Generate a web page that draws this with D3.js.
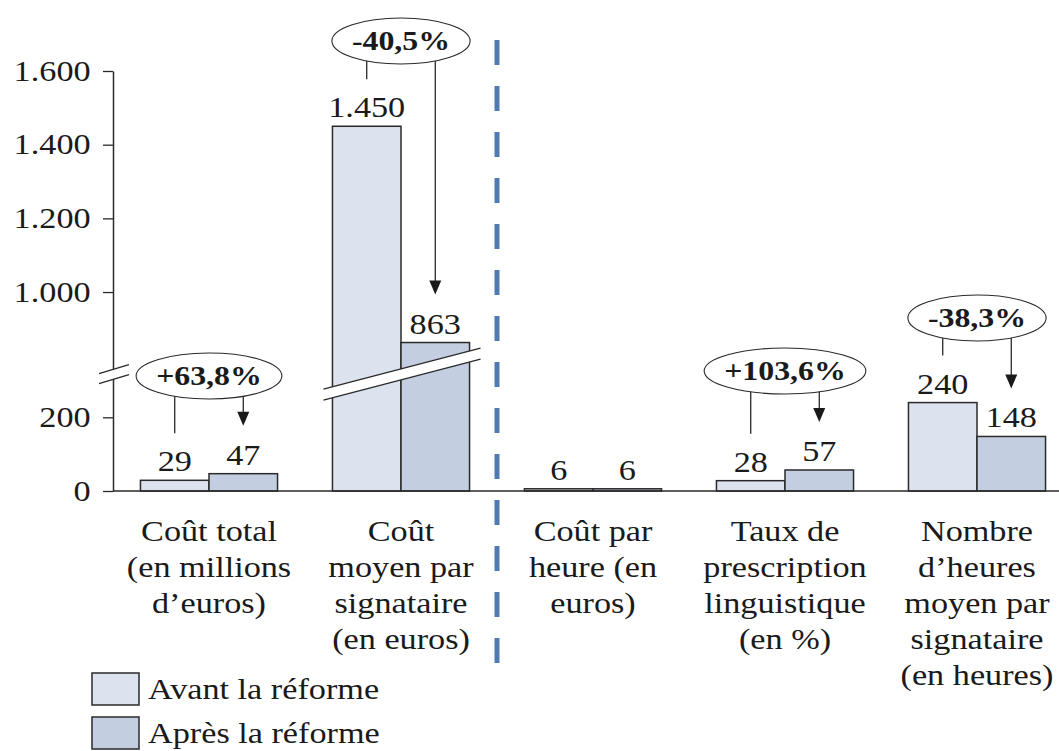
<!DOCTYPE html>
<html>
<head>
<meta charset="utf-8">
<script src="https://cdn.jsdelivr.net/npm/d3@7"></script>
<style>
  body { margin: 0; background: #fff; }
  svg { display: block; }
  text { font-family: "Liberation Serif", "Times New Roman", serif; fill: #1a1a1a; }
</style>
</head>
<body>
<svg width="1059" height="751"></svg>
<script>
// data
var categories = [
  ["Coût total", "(en millions", "d’euros)"],
  ["Coût", "moyen par", "signataire", "(en euros)"],
  ["Coût par", "heure (en", "euros)"],
  ["Taux de", "prescription", "linguistique", "(en %)"],
  ["Nombre", "d’heures", "moyen par", "signataire", "(en heures)"]
];
var avant = [29, 1450, 6, 28, 240];
var apres = [47, 863, 6, 57, 148];
var variations = ["+63,8%", "-40,5%", null, "+103,6%", "-38,3%"];
var series = ["Avant la réforme", "Après la réforme"];
var yTicks = [0, 200, 1000, 1200, 1400, 1600];

// layout for the notes (ellipse centres)
var noteY = [376, 41, null, 371, 318];

var colors = ["#dde3ee", "#c4cee1"];
var ink = "#1a1a1a";
var sx = 1.18; // fonts are a little wide in the source

var svg = d3.select("svg");
var fr = d3.formatLocale({decimal: ",", thousands: ".", grouping: [3], currency: ["", ""]});
var fmt = fr.format(",");

var plotLeft = 113, plotBottom = 491, plotTop = 71;
var idx = d3.range(categories.length);

var x0 = d3.scaleBand().domain(idx).range([plotLeft, plotLeft + 192 * 5])
  .paddingInner(0.286).paddingOuter(0.143);
var x1 = d3.scaleBand().domain([0, 1]).range([0, x0.bandwidth()]);

// broken axis: 320..780 collapsed
var k = (plotBottom - plotTop) / (1600 - 460);
var yBreak = plotBottom - 320 * k;
var y = d3.scaleLinear().domain([0, 320, 780, 1600]).range([plotBottom, yBreak, yBreak, plotTop]);

function label(g, x, yy, str, anchor, opts) {
  opts = opts || {};
  var t = g.append("g").attr("transform", "translate(" + x + "," + yy + ") scale(" + sx + ",1)")
    .append("text")
    .attr("text-anchor", anchor || "middle")
    .style("font-size", (opts.size || 29) + "px")
    .style("font-weight", opts.bold ? "bold" : "normal")
    .text(str);
  return t;
}

// bars
var groups = svg.append("g").selectAll("g").data(idx).enter().append("g")
  .attr("transform", function (i) { return "translate(" + x0(i) + ",0)"; });

groups.selectAll("rect")
  .data(function (i) { return [avant[i], apres[i]]; })
  .enter().append("rect")
  .attr("x", function (d, j) { return x1(j); })
  .attr("y", function (d) { return y(d); })
  .attr("width", x1.bandwidth())
  .attr("height", function (d) { return plotBottom - y(d); })
  .attr("fill", function (d, j) { return colors[j]; })
  .attr("stroke", "#2a2a2a")
  .attr("stroke-width", 1.5);

// break band across the tall bars
var bx0 = x0(1) - 9, bx1 = x0(1) + x0.bandwidth() + 11, bcx = (bx0 + bx1) / 2;
var slope = -0.26, gap = 5.5;
function by(x, off) { return yBreak + 1 + slope * (x - bcx) + off; }
svg.append("polygon")
  .attr("points", [[bx0, by(bx0, -gap)], [bx1, by(bx1, -gap)], [bx1, by(bx1, gap)], [bx0, by(bx0, gap)]].join(" "))
  .attr("fill", "#fff");
[-gap, gap].forEach(function (o) {
  svg.append("line")
    .attr("x1", bx0).attr("y1", by(bx0, o)).attr("x2", bx1).attr("y2", by(bx1, o))
    .attr("stroke", "#2a2a2a").attr("stroke-width", 1.3);
});

// axes
var yAxis = svg.append("g").attr("transform", "translate(" + plotLeft + ",0)")
  .call(d3.axisLeft(y).tickValues(yTicks).tickFormat(fmt).tickSize(10).tickSizeOuter(0).tickPadding(9));
yAxis.select(".domain").attr("stroke", "#2a2a2a").attr("stroke-width", 1.5);
yAxis.selectAll(".tick line").attr("stroke", "#2a2a2a").attr("stroke-width", 1.3);
yAxis.selectAll(".tick text")
  .attr("transform", "scale(" + sx + ",1)")
  .style("font-size", "29px")
  .style("font-family", "Liberation Serif, serif")
  .attr("fill", ink);

svg.append("line")
  .attr("x1", plotLeft).attr("x2", 1059).attr("y1", plotBottom).attr("y2", plotBottom)
  .attr("stroke", "#2a2a2a").attr("stroke-width", 1.5);

// axis break marks
var ax0 = plotLeft - 14, ax1 = plotLeft + 16, acx = plotLeft + 1;
function ay(x, off) { return yBreak + 1 + -0.3 * (x - acx) + off; }
svg.append("polygon")
  .attr("points", [[ax0, ay(ax0, -5)], [ax1, ay(ax1, -5)], [ax1, ay(ax1, 5)], [ax0, ay(ax0, 5)]].join(" "))
  .attr("fill", "#fff");
[-5, 5].forEach(function (o) {
  svg.append("line")
    .attr("x1", ax0).attr("y1", ay(ax0, o)).attr("x2", ax1).attr("y2", ay(ax1, o))
    .attr("stroke", "#2a2a2a").attr("stroke-width", 1.3);
});

// dashed separator between the two blocks of indicators
var sepX = x0(1) + x0.bandwidth() + x0.step() * x0.paddingInner() / 2;
svg.append("line")
  .attr("x1", sepX).attr("x2", sepX).attr("y1", 40).attr("y2", 665)
  .attr("stroke", "#4f7bb0").attr("stroke-width", 5)
  .attr("stroke-dasharray", "25 21");

// value labels
var lab = svg.append("g");
idx.forEach(function (i) {
  [avant[i], apres[i]].forEach(function (v, j) {
    label(lab, x0(i) + x1(j) + x1.bandwidth() / 2, y(v) - 9, fmt(v));
  });
});

// category labels
var cat = svg.append("g");
idx.forEach(function (i) {
  categories[i].forEach(function (line, n) {
    label(cat, x0(i) + x0.bandwidth() / 2, 541 + n * 36, line);
  });
});

// variation notes
var notes = svg.append("g");
idx.forEach(function (i) {
  if (!variations[i]) return;
  var cx = x0(i) + x0.bandwidth() / 2, cy = noteY[i];
  var ell = notes.append("ellipse").attr("cx", cx).attr("cy", cy).attr("ry", 23)
    .attr("fill", "#fff").attr("stroke", "#2a2a2a").attr("stroke-width", 1.1);
  var t = label(notes, cx, cy + 9, variations[i], "middle", {bold: true, size: 27});
  var rx = t.node().getComputedTextLength() * sx / 2 + 20;
  ell.attr("rx", rx);

  function edge(x) {
    var u = (x - cx) / rx;
    return cy + 23 * Math.sqrt(Math.max(0, 1 - u * u));
  }
  // line from the "before" bar
  var xa = x0(i) + x1(0) + x1.bandwidth() / 2;
  notes.append("line")
    .attr("x1", xa).attr("x2", xa).attr("y1", edge(xa)).attr("y2", y(avant[i]) - 47)
    .attr("stroke", "#2a2a2a").attr("stroke-width", 1.3);
  // arrow to the "after" bar
  var xb = x0(i) + x1(1) + x1.bandwidth() / 2;
  var tip = y(apres[i]) - 48;
  notes.append("line")
    .attr("x1", xb).attr("x2", xb).attr("y1", edge(xb)).attr("y2", tip - 12)
    .attr("stroke", "#2a2a2a").attr("stroke-width", 1.3);
  notes.append("polygon")
    .attr("points", [[xb, tip], [xb - 6, tip - 14], [xb + 6, tip - 14]].join(" "))
    .attr("fill", "#1a1a1a");
});

// legend
var leg = svg.append("g");
series.forEach(function (s, j) {
  leg.append("rect")
    .attr("x", 92).attr("y", 673 + j * 44).attr("width", 47).attr("height", 32)
    .attr("fill", colors[j]).attr("stroke", "#2a2a2a").attr("stroke-width", 1.5);
  label(leg, 148, 699 + j * 44, s, "start");
});
</script>
</body>
</html>
